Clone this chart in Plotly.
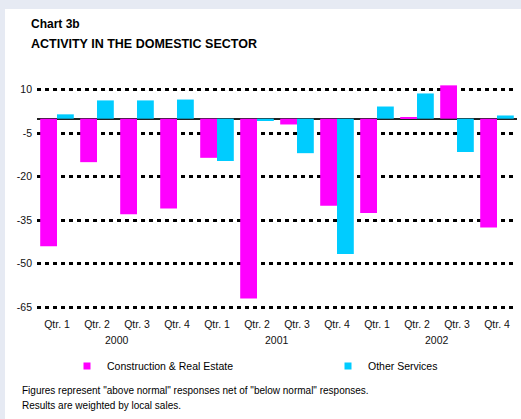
import plotly.graph_objects as go

years = ["2000"] * 4 + ["2001"] * 4 + ["2002"] * 4
quarters = ["Qtr. 1", "Qtr. 2", "Qtr. 3", "Qtr. 4"] * 3
construction = [-44, -15, -33, -31, -13.5, -62, -2, -30, -32.5, 0.3, 11.5, -37.5]
other_services = [1.5, 6.3, 6.3, 6.6, -14.6, -0.8, -11.9, -46.7, 4.2, 8.7, -11.5, 1.1]
ytick_vals = [10, -5, -20, -35, -50, -65]
year_labels = ["2000", "2001", "2002"]

categories = [f"{q} {y}" for q, y in zip(quarters, years)]

W, H = 521, 419
L, R, T, B = 37, 4, 81, 109
pw, ph = W - L - R, H - T - B

def px(x):
    return (x - L) / pw

def py(y):
    return (H - B - y) / ph

FONT = "Liberation Sans, Arial, sans-serif"

fig = go.Figure()
fig.add_trace(go.Bar(x=categories, y=construction, name="Construction & Real Estate",
                     marker=dict(color="#ff00ff", line=dict(width=0)), showlegend=False))
fig.add_trace(go.Bar(x=categories, y=other_services, name="Other Services",
                     marker=dict(color="#00ccff", line=dict(width=0)), showlegend=False))
# legend entries
fig.add_trace(go.Scatter(x=[None], y=[None], mode="markers", name="Construction & Real Estate",
                         marker=dict(symbol="square", size=7, color="#ff00ff"), legend="legend"))
fig.add_trace(go.Scatter(x=[None], y=[None], mode="markers", name="Other Services",
                         marker=dict(symbol="square", size=7, color="#00ccff"), legend="legend2"))

shapes = [dict(type="rect", xref="paper", yref="paper", x0=px(5), x1=px(W + 5), y0=py(H + 5), y1=py(9),
               fillcolor="white", line=dict(width=0), layer="below")]

annotations = [
    dict(text="<b>Chart 3b</b>", x=px(29), y=py(24), xref="paper", yref="paper", xanchor="left",
         yanchor="middle", showarrow=False, font=dict(size=12, color="black", family=FONT)),
    dict(text="<b>ACTIVITY IN THE DOMESTIC SECTOR</b>", x=px(29), y=py(44), xref="paper", yref="paper",
         xanchor="left", yanchor="middle", showarrow=False, font=dict(size=12.5, color="black", family=FONT)),
    dict(text='Figures represent "above normal" responses net of "below normal" responses.', x=px(20),
         y=py(390), xref="paper", yref="paper", xanchor="left", yanchor="middle", showarrow=False,
         font=dict(size=10, color="black", family=FONT)),
    dict(text="Results are weighted by local sales.", x=px(20), y=py(405), xref="paper", yref="paper",
         xanchor="left", yanchor="middle", showarrow=False, font=dict(size=10, color="black", family=FONT)),
]
# year labels centred under each group of four quarters
for i, yl in enumerate(year_labels):
    annotations.append(dict(text=yl, x=4 * i + 1.5, y=py(340), xref="x", yref="paper",
                            xanchor="center", yanchor="middle", showarrow=False,
                            font=dict(size=10.5, color="#111", family=FONT)))

legend_common = dict(orientation="h", yanchor="middle", bgcolor="rgba(0,0,0,0)",
                     font=dict(size=10.5, color="black", family=FONT), itemwidth=30)

fig.update_layout(
    width=W, height=H,
    margin=dict(l=L, r=R, t=T, b=B, pad=0, autoexpand=False),
    paper_bgcolor="#e6eaf3", plot_bgcolor="white",
    font=dict(family=FONT, size=10.5, color="#111"),
    barmode="group", bargap=0.16, bargroupgap=0,
    shapes=shapes, annotations=annotations,
    legend=dict(x=px(67), y=py(366), xanchor="left", **legend_common),
    legend2=dict(x=px(328), y=py(366), xanchor="left", **legend_common),
    xaxis=dict(type="category", tickvals=categories, ticktext=quarters, showgrid=False,
               showline=False, zeroline=False, ticks="", tickfont=dict(size=10.5, color="#111"),
               automargin=False, ticklabelstandoff=6),
    yaxis=dict(range=[-66, 13], tickvals=ytick_vals, ticktext=[str(v) for v in ytick_vals],
               showgrid=True, gridcolor="black", gridwidth=3, griddash="4px,4px",
               zeroline=True, zerolinecolor="#222", zerolinewidth=2, showline=False,
               ticklabelstandoff=4, tickfont=dict(size=10.5, color="#111"), automargin=False),
)

fig.write_html("out.html", config={"displayModeBar": False},
               post_script="document.body.style.margin='0';")
